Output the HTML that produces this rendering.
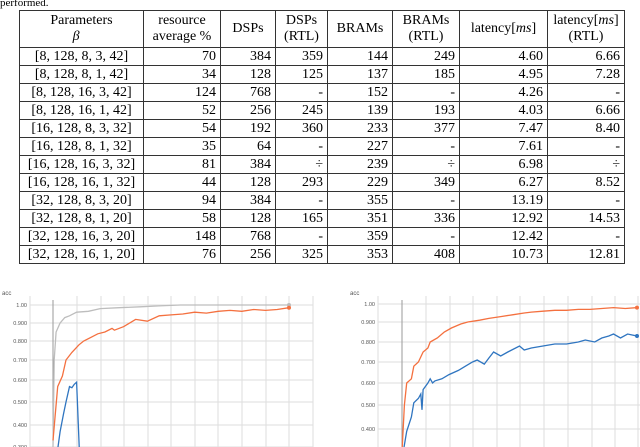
<!DOCTYPE html>
<html><head><meta charset="utf-8"><style>
body{margin:0;width:640px;height:447px;background:#fff;position:relative;overflow:hidden;font-family:"Liberation Serif",serif;}
#cap{position:absolute;left:0;top:-3px;font-size:11px;}
table{position:absolute;left:19px;top:10px;border-collapse:collapse;font-size:14px;}
td{border:1px solid #333;padding:0 4px;height:18px;line-height:16px;text-align:right;box-sizing:border-box;}
td:first-child{text-align:center;}
tr.h td{text-align:center;height:37px;line-height:16px;}
svg{position:absolute;left:0;top:0;}
</style></head><body>
<div id="cap">performed.</div>
<table>
<colgroup><col style="width:124px"><col style="width:77px"><col style="width:55px"><col style="width:52px"><col style="width:65px"><col style="width:67px"><col style="width:88px"><col style="width:77px"></colgroup>
<tr class="h"><td>Parameters<br><i>β⃗</i></td><td>resource<br>average %</td><td>DSPs</td><td>DSPs<br>(RTL)</td><td>BRAMs</td><td>BRAMs<br>(RTL)</td><td>latency[<i>ms</i>]</td><td>latency[<i>ms</i>]<br>(RTL)</td></tr>
<tr><td>[8, 128, 8, 3, 42]</td><td>70</td><td>384</td><td>359</td><td>144</td><td>249</td><td>4.60</td><td>6.66</td></tr>
<tr><td>[8, 128, 8, 1, 42]</td><td>34</td><td>128</td><td>125</td><td>137</td><td>185</td><td>4.95</td><td>7.28</td></tr>
<tr><td>[8, 128, 16, 3, 42]</td><td>124</td><td>768</td><td>-</td><td>152</td><td>-</td><td>4.26</td><td>-</td></tr>
<tr><td>[8, 128, 16, 1, 42]</td><td>52</td><td>256</td><td>245</td><td>139</td><td>193</td><td>4.03</td><td>6.66</td></tr>
<tr><td>[16, 128, 8, 3, 32]</td><td>54</td><td>192</td><td>360</td><td>233</td><td>377</td><td>7.47</td><td>8.40</td></tr>
<tr><td>[16, 128, 8, 1, 32]</td><td>35</td><td>64</td><td>-</td><td>227</td><td>-</td><td>7.61</td><td>-</td></tr>
<tr><td>[16, 128, 16, 3, 32]</td><td>81</td><td>384</td><td>÷</td><td>239</td><td>÷</td><td>6.98</td><td>÷</td></tr>
<tr><td>[16, 128, 16, 1, 32]</td><td>44</td><td>128</td><td>293</td><td>229</td><td>349</td><td>6.27</td><td>8.52</td></tr>
<tr><td>[32, 128, 8, 3, 20]</td><td>94</td><td>384</td><td>-</td><td>355</td><td>-</td><td>13.19</td><td>-</td></tr>
<tr><td>[32, 128, 8, 1, 20]</td><td>58</td><td>128</td><td>165</td><td>351</td><td>336</td><td>12.92</td><td>14.53</td></tr>
<tr><td>[32, 128, 16, 3, 20]</td><td>148</td><td>768</td><td>-</td><td>359</td><td>-</td><td>12.42</td><td>-</td></tr>
<tr><td>[32, 128, 16, 1, 20]</td><td>76</td><td>256</td><td>325</td><td>353</td><td>408</td><td>10.73</td><td>12.81</td></tr>
</table>
<svg id="s" width="640" height="447"></svg>
<script>
const yTicks=[1.0,0.9,0.8,0.7,0.6,0.5,0.4,0.3];
const yTickLabels=["1.00","0.900","0.800","0.700","0.600","0.500","0.400","0.300"];
const leftGrayX=[0,0.5,1.3,3,5,7,10,15,20,28,37,45,54,70,85,100];
const leftGrayY=[0.3,0.7,0.85,0.9,0.93,0.94,0.96,0.965,0.98,0.985,0.99,0.995,1.0,1.0,1.0,1.0];
const leftOrangeX=[0,2,4,5.5,8,11,13,16,19,22,25,26,30,35,40,45,50,55,60,65,70,75,80,85,90,95,100];
const leftOrangeY=[0.33,0.57,0.62,0.7,0.74,0.78,0.8,0.82,0.84,0.85,0.87,0.86,0.88,0.92,0.91,0.94,0.945,0.95,0.96,0.955,0.965,0.97,0.965,0.975,0.97,0.975,0.985];
const leftBlueX=[1.5,3,4.5,5.5,7,8,9,10,11.5];
const leftBlueY=[0.25,0.37,0.45,0.5,0.57,0.565,0.58,0.59,0.2];
const rightOrangeX=[0,1,2,4,5,7,9,11,12,15,18,21,25,28,33,37,42,47,52,55,60,65,70,75,80,85,90,95,100];
const rightOrangeY=[0.3,0.5,0.6,0.62,0.68,0.7,0.75,0.77,0.8,0.82,0.85,0.87,0.89,0.9,0.91,0.92,0.93,0.94,0.95,0.955,0.96,0.965,0.965,0.97,0.97,0.975,0.98,0.975,0.98];
const rightBlueX=[0.5,2,4,5,7,8,8.5,9,11,12,13,14,17,20,24,27,30,32,35,37,39,42,45,50,52,55,60,65,70,75,78,82,85,88,90,93,96,100];
const rightBlueY=[0.3,0.39,0.45,0.51,0.53,0.55,0.48,0.57,0.6,0.62,0.6,0.61,0.62,0.64,0.66,0.68,0.7,0.71,0.69,0.72,0.75,0.73,0.75,0.78,0.76,0.77,0.78,0.79,0.79,0.8,0.81,0.8,0.82,0.83,0.84,0.82,0.84,0.83];
const NS="http://www.w3.org/2000/svg";
const svg=document.getElementById('s');
function el(t,a){const e=document.createElementNS(NS,t);for(const k in a)e.setAttribute(k,a[k]);svg.appendChild(e);return e;}
function makeY(px){return v=>{for(let i=0;i<yTicks.length-1;i++){const a=yTicks[i],b=yTicks[i+1];if(v<=a&&v>=b)return px[i]+(px[i+1]-px[i])*(a-v)/(a-b);}return v>1?px[0]:px[px.length-1]+(0.3-v)*220;};}
function chart(cfg){
  const y=makeY(cfg.tickPx),x=s=>cfg.x0+(cfg.x1-cfg.x0)*s/100;
  cfg.vgrid.forEach(gx=>{const l=el('line',{x1:gx,x2:gx,y1:296,y2:447,stroke:'#dedede','stroke-width':1});});
  yTicks.forEach((t,i)=>{const py=y(t);if(py>447)return;
    const l=el('line',{x1:cfg.gl,x2:cfg.gr,y1:py,y2:py,stroke:'#dedede'});
    const tx=el('text',{x:cfg.gl-3,y:py+2,'font-size':5.5,'font-family':'Liberation Sans, sans-serif','text-anchor':'end',fill:'#555'});tx.textContent=yTickLabels[i];});
  const ax=el('line',{x1:cfg.x0,x2:cfg.x0,y1:300,y2:447,stroke:'#999','stroke-width':1});
  const at=el('text',{x:cfg.accX,y:295,'font-size':6,'font-family':'Liberation Sans, sans-serif',fill:'#555'});at.textContent='acc';
  cfg.series.forEach(sr=>{const d=sr.xs.map((s,i)=>(i?'L':'M')+x(s).toFixed(1)+','+y(sr.ys[i]).toFixed(1)).join(' ');
    const p=el('path',{d:d,fill:'none',stroke:sr.c,'stroke-width':1.3});
    if(sr.dot){const n=sr.xs.length-1;const c=el('circle',{cx:x(sr.xs[n]),cy:y(sr.ys[n]),r:2,fill:sr.c});}});
}
chart({x0:53,x1:289,gl:30,gr:313,accX:2,tickPx:[305,323,341,360,380,402,425,447],vgrid:[30,77,101,124,148,171,195,218,242,266,289,313],
  series:[{xs:leftGrayX,ys:leftGrayY,c:'#bdbdbd',n:'left-gray-series',dot:true},{xs:leftOrangeX,ys:leftOrangeY,c:'#f4703f',n:'left-orange-series',dot:true},{xs:leftBlueX,ys:leftBlueY,c:'#2f75c0',n:'left-blue-series'}]});
chart({x0:402,x1:637,gl:378,gr:640,accX:350,tickPx:[304,322,342,362,383,405,429,452],vgrid:[378,426,450,473,497,520,544,568,592,615,638],
  series:[{xs:rightOrangeX,ys:rightOrangeY,c:'#f4703f',n:'right-orange-series',dot:true},{xs:rightBlueX,ys:rightBlueY,c:'#2f75c0',n:'right-blue-series',dot:true}]});
</script>
</body></html>
